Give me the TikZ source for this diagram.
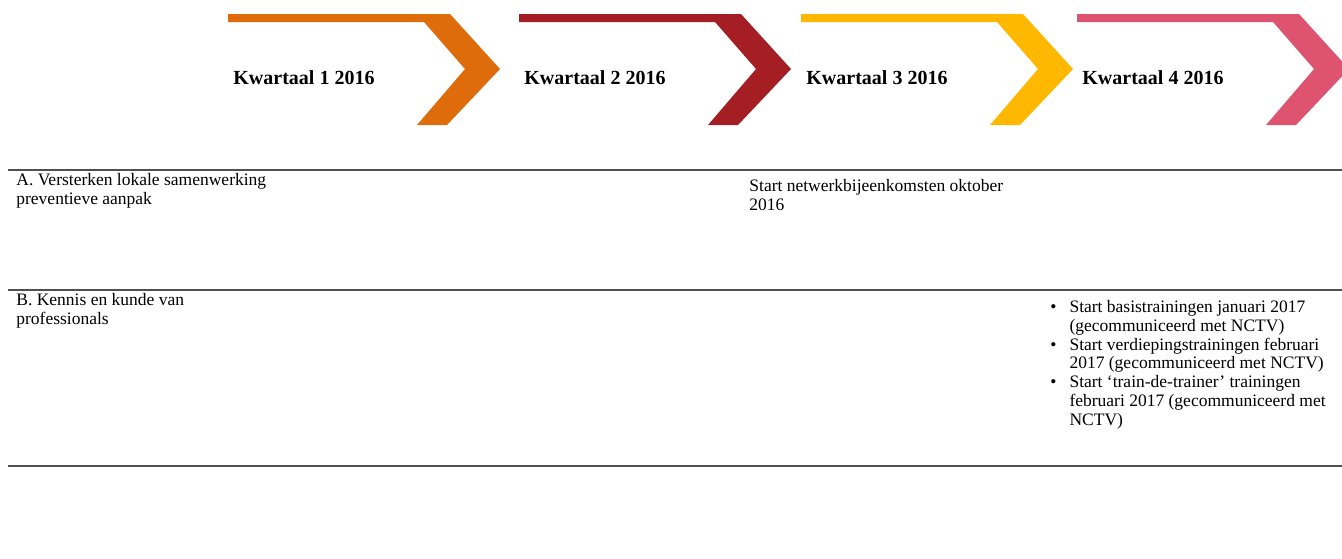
\documentclass[tikz,border=0pt]{standalone}
\usepackage{fontspec}
\setmainfont{Liberation Serif}
\usetikzlibrary{positioning}

\definecolor{qone}{RGB}{222,108,10}
\definecolor{qtwo}{RGB}{165,30,35}
\definecolor{qthree}{RGB}{255,184,0}
\definecolor{qfour}{RGB}{222,84,112}
\definecolor{rulegray}{RGB}{80,80,80}

\begin{document}
\begin{tikzpicture}[
  x=0.5pt, y=-0.5pt,
  font=\fontsize{8.75}{9.4}\selectfont,
  qlabel/.style={anchor=west,inner sep=0pt,font=\fontsize{10}{12}\selectfont\bfseries},
  rule/.style={draw=rulegray,line width=1pt},
  cell/.style={anchor=north west,align=left,inner sep=0pt}
]
\useasboundingbox (0,0) rectangle (1342,558);
\clip (0,0) rectangle (1342,558);

% Quarter chevrons
\foreach \x/\c/\n in {228/qone/1,519/qtwo/2,801/qthree/3,1077/qfour/4}{
  \fill[\c] (\x,14) -- ++(222,0) -- ++(50,55) -- ++(-53,56) -- ++(-30,0)
    -- ++(48,-56) -- ++(-41,-47) -- (\x,22) -- cycle;
  \node[qlabel] (q\n) at (\x+5,78) {Kwartaal \n{} 2016};
}

% Table rules
\draw[rule] (8,170) -- (1342,170);
\draw[rule] (8,290) -- (1342,290);
\draw[rule] (8,466) -- (1342,466);

% Row A
\node[cell] (rowa) at (16,173) {A. Versterken lokale samenwerking\\preventieve aanpak};
\node[cell] (neta) at (749,179) {Start netwerkbijeenkomsten oktober\\2016};

% Row B
\node[cell] (rowb) at (16,293) {B. Kennis en kunde van\\professionals};
\node[cell] (trainb) at (1050,299) {%
  \begin{tabular}{@{}l@{\hspace{6.5pt}}l@{}}
  \textbullet & Start basistrainingen januari 2017\\
              & (gecommuniceerd met NCTV)\\
  \textbullet & Start verdiepingstrainingen februari\\
              & 2017 (gecommuniceerd met NCTV)\\
  \textbullet & Start `train-de-trainer' trainingen\\
              & februari 2017 (gecommuniceerd met\\
              & NCTV)
  \end{tabular}};
\end{tikzpicture}
\end{document}
